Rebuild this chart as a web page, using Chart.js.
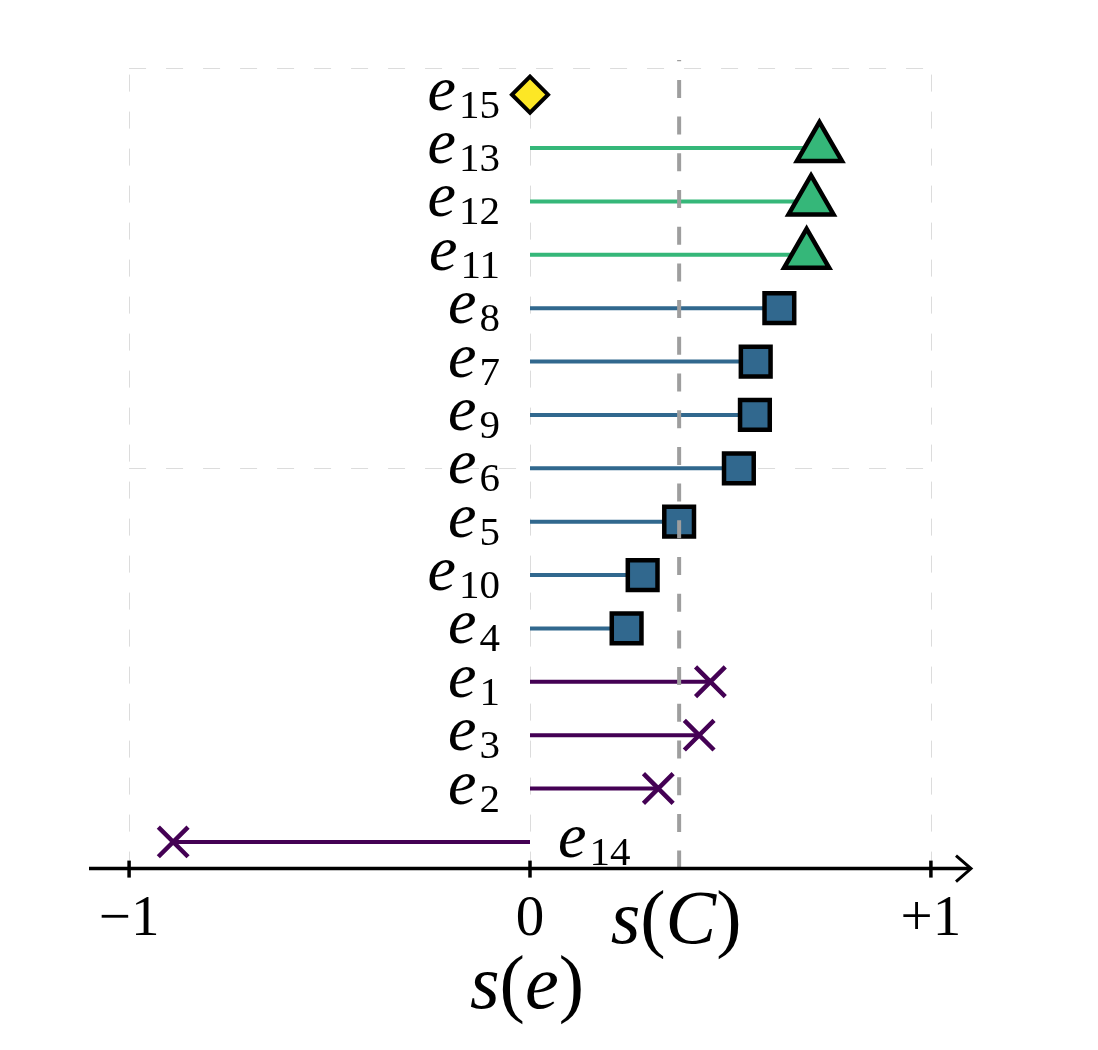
<!DOCTYPE html>
<html>
<head>
<meta charset="utf-8">
<script src="https://cdn.jsdelivr.net/npm/chart.js@4.4.1/dist/chart.umd.min.js"></script>
<style>
  html, body { margin: 0; padding: 0; background: #fff; }
  #chart { display: block; }
</style>
</head>
<body>
<canvas id="chart" width="1098" height="1050"></canvas>
<script>
// rows go from bottom (0) to top (14)
const edgeNames = ['14', '2', '3', '1', '4', '10', '5', '6', '9', '7', '8', '11', '12', '13', '15'];
const edgeScores = [-0.890, 0.320, 0.422, 0.450, 0.241, 0.281, 0.372, 0.521, 0.561, 0.563, 0.622, 0.690, 0.701, 0.722, 0.0];
const edgeGroups = ['cross', 'cross', 'cross', 'cross', 'square', 'square', 'square', 'square', 'square', 'square', 'square', 'tri', 'tri', 'tri', 'diamond'];
const clusterScore = 0.372;
const xTicks = [-1, 0, 1];
const xTickLabels = ['−1', '0', '+1'];
const gridY = [7, 14.5];

const SERIF = '"Liberation Serif", "DejaVu Serif", serif';

const groupStyles = {
    cross:   { line: '#440154', pointStyle: 'crossRot', radius: 21, bg: '#440154', border: '#440154', bw: 4.5 },
    square:  { line: '#31688e', pointStyle: 'rect', radius: 21, bg: '#31688e', border: '#000000', bw: 4.5 },
    tri:     { line: '#35b779', pointStyle: 'triangle', radius: 26, bg: '#35b779', border: '#000000', bw: 4.5 },
    diamond: { line: '#fde725', pointStyle: 'rectRot', radius: 18, bg: '#fde725', border: '#000000', bw: 4 }
};

function buildDatasets() {
    const stems = [];
    const markers = [];
    Object.keys(groupStyles).forEach(g => {
        const st = groupStyles[g];
        const stemData = [];
        const pts = [];
        edgeScores.forEach((v, i) => {
            if (edgeGroups[i] !== g) return;
            stemData.push({ x: 0, y: i }, { x: v, y: i }, { x: v, y: null });
            pts.push({ x: v, y: i });
        });
        stems.push({
            type: 'line',
            data: stemData,
            borderColor: st.line,
            borderWidth: 4,
            pointRadius: 0,
            spanGaps: false,
            showLine: true,
            clip: false,
            order: 2
        });
        markers.push({
            type: 'scatter',
            data: pts,
            pointStyle: st.pointStyle,
            pointRadius: st.radius,
            pointBackgroundColor: st.bg,
            pointBorderColor: st.border,
            pointBorderWidth: st.bw,
            clip: false,
            order: 1
        });
    });
    return stems.concat(markers);
}

function drawMath(ctx, parts, cx, baseline, size) {
    let total = 0;
    parts.forEach(p => {
        ctx.font = (p[1] ? 'italic ' : '') + size + 'px ' + SERIF;
        p.w = ctx.measureText(p[0]).width;
        total += p.w;
    });
    let x = cx - total / 2;
    ctx.textAlign = 'left';
    ctx.textBaseline = 'alphabetic';
    parts.forEach(p => {
        ctx.font = (p[1] ? 'italic ' : '') + size + 'px ' + SERIF;
        ctx.fillText(p[0], x, baseline);
        x += p.w;
    });
}

function drawEdgeLabel(ctx, name, x, y, alignRight) {
    const mainFont = 'italic 64px ' + SERIF;
    const subFont = '41px ' + SERIF;
    ctx.font = mainFont;
    const wE = ctx.measureText('e').width;
    ctx.font = subFont;
    const wS = ctx.measureText(name).width;
    const gap = 3;
    const x0 = alignRight ? x - (wE + gap + wS) : x;
    ctx.textAlign = 'left';
    ctx.textBaseline = 'alphabetic';
    ctx.font = mainFont;
    ctx.fillText('e', x0, y + 15);
    ctx.font = subFont;
    ctx.fillText(name, x0 + wE + gap, y + 23);
}

const decorPlugin = {
    id: 'decor',
    beforeDatasetsDraw(chart) {
        const ctx = chart.ctx;
        const xs = chart.scales.x, ys = chart.scales.y;
        const left = xs.getPixelForValue(-1), right = xs.getPixelForValue(1);
        const top = ys.getPixelForValue(14.5), bottom = ys.getPixelForValue(-0.5);
        ctx.save();
        ctx.strokeStyle = '#dcdcdc';
        ctx.lineWidth = 1;
        ctx.setLineDash([17, 20]);
        xTicks.forEach(t => {
            const px = Math.round(xs.getPixelForValue(t)) + 0.5;
            ctx.beginPath();
            ctx.moveTo(px, bottom);
            ctx.lineTo(px, top);
            ctx.stroke();
        });
        gridY.forEach(v => {
            const py = Math.round(ys.getPixelForValue(v)) + 0.5;
            ctx.beginPath();
            ctx.moveTo(left, py);
            ctx.lineTo(right, py);
            ctx.stroke();
        });
        ctx.restore();
    },
    afterDatasetsDraw(chart) {
        const ctx = chart.ctx;
        const xs = chart.scales.x, ys = chart.scales.y;
        const axisY = ys.getPixelForValue(-0.5);
        ctx.save();

        // s(C) reference line
        const cx = xs.getPixelForValue(clusterScore);
        ctx.strokeStyle = '#9e9e9e';
        ctx.lineWidth = 4;
        ctx.setLineDash([18, 18.7]);
        ctx.beginPath();
        ctx.moveTo(cx, axisY);
        ctx.lineTo(cx, ys.getPixelForValue(14.65));
        ctx.stroke();
        ctx.setLineDash([]);

        // x axis with arrow
        const x0 = xs.getPixelForValue(-1.1), x1 = xs.getPixelForValue(1.1);
        ctx.strokeStyle = '#000';
        ctx.lineWidth = 3.5;
        ctx.beginPath();
        ctx.moveTo(x0, axisY);
        ctx.lineTo(x1 - 1, axisY);
        ctx.stroke();
        ctx.lineWidth = 3;
        ctx.beginPath();
        ctx.moveTo(x1 - 15, axisY - 13);
        ctx.lineTo(x1, axisY);
        ctx.lineTo(x1 - 15, axisY + 13);
        ctx.stroke();
        ctx.lineWidth = 3.5;
        xTicks.forEach(t => {
            const px = xs.getPixelForValue(t);
            ctx.beginPath();
            ctx.moveTo(px, axisY - 8);
            ctx.lineTo(px, axisY + 9);
            ctx.stroke();
        });

        // edge labels
        ctx.fillStyle = '#000';
        edgeNames.forEach((n, i) => {
            const py = ys.getPixelForValue(i);
            const px = xs.getPixelForValue(0);
            if (edgeScores[i] < 0) drawEdgeLabel(ctx, n, px + 28, py, false);
            else drawEdgeLabel(ctx, n, px - 30, py, true);
        });

        // axis labels
        drawMath(ctx, [['s', true], ['(', false], ['C', true], [')', false]], cx - 3, 943, 76);
        drawMath(ctx, [['s', true], ['(', false], ['e', true], [')', false]], xs.getPixelForValue(0) - 3, 1008, 76);
        ctx.restore();
    }
};

const ctx = document.getElementById('chart').getContext('2d');
new Chart(ctx, {
    type: 'scatter',
    data: { datasets: buildDatasets() },
    options: {
        responsive: false,
        animation: false,
        layout: { padding: { left: 89, right: 127, top: 68, bottom: 79 } },
        plugins: { legend: { display: false }, tooltip: { enabled: false } },
        scales: {
            x: {
                type: 'linear',
                min: -1.1,
                max: 1.1,
                afterBuildTicks: s => { s.ticks = xTicks.map(v => ({ value: v })); },
                grid: { display: false, drawTicks: false },
                border: { display: false },
                ticks: {
                    callback: v => xTickLabels[xTicks.indexOf(v)],
                    font: { family: SERIF, size: 57 },
                    color: '#000',
                    padding: 17,
                    maxRotation: 0,
                    autoSkip: false
                }
            },
            y: { type: 'linear', min: -0.5, max: 14.5, display: false }
        }
    },
    plugins: [decorPlugin]
});
</script>
</body>
</html>
